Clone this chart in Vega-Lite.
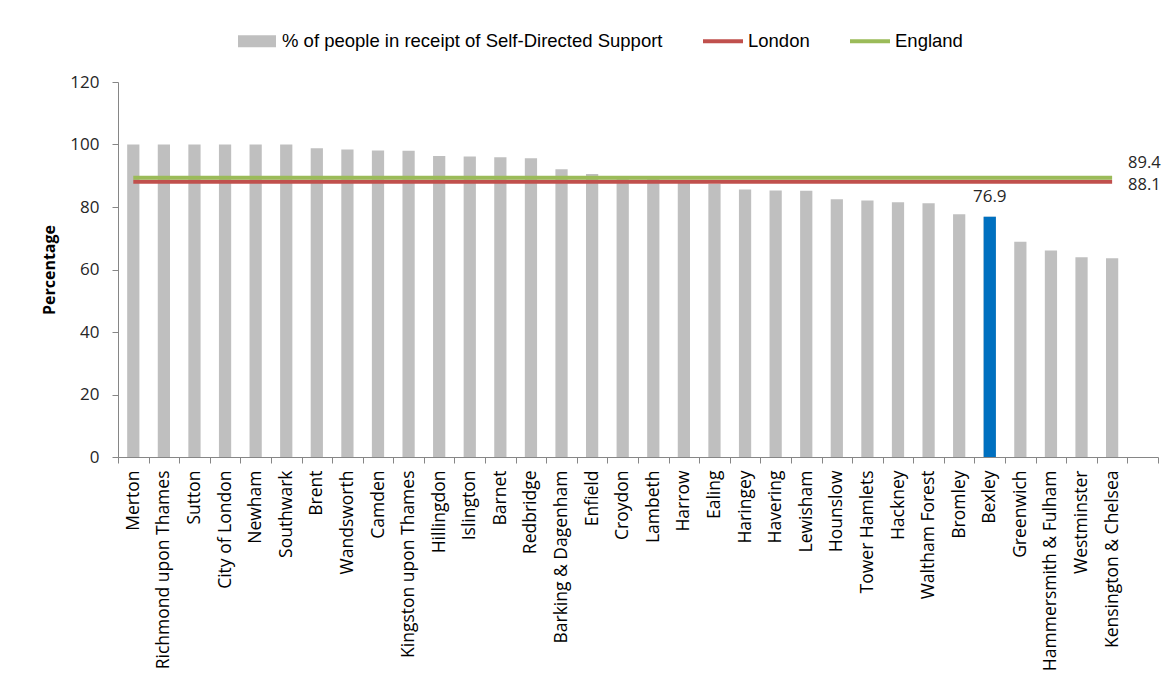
{
  "$schema": "https://vega.github.io/schema/vega-lite/v6.json",
  "autosize": {"type": "none"},
  "width": 1040,
  "height": 375,
  "padding": {"left": 118, "top": 82, "right": 13, "bottom": 227},
  "background": "white",
  "config": {
    "view": {"stroke": null},
    "font": "Open Sans",
    "axis": {"grid": false, "domainColor": "#868686", "tickColor": "#868686", "labelColor": "#262626"}
  },
  "datasets": {
    "boroughs": [
      {"borough": "Merton", "pct": 100},
      {"borough": "Richmond upon Thames", "pct": 100},
      {"borough": "Sutton", "pct": 100},
      {"borough": "City of London", "pct": 100},
      {"borough": "Newham", "pct": 100},
      {"borough": "Southwark", "pct": 100},
      {"borough": "Brent", "pct": 98.8},
      {"borough": "Wandsworth", "pct": 98.4},
      {"borough": "Camden", "pct": 98.1},
      {"borough": "Kingston upon Thames", "pct": 98.0},
      {"borough": "Hillingdon", "pct": 96.3},
      {"borough": "Islington", "pct": 96.2},
      {"borough": "Barnet", "pct": 95.9},
      {"borough": "Redbridge", "pct": 95.6},
      {"borough": "Barking & Dagenham", "pct": 92.1},
      {"borough": "Enfield", "pct": 90.6},
      {"borough": "Croydon", "pct": 89.6},
      {"borough": "Lambeth", "pct": 89.0},
      {"borough": "Harrow", "pct": 88.6},
      {"borough": "Ealing", "pct": 87.4},
      {"borough": "Haringey", "pct": 85.6},
      {"borough": "Havering", "pct": 85.3},
      {"borough": "Lewisham", "pct": 85.2},
      {"borough": "Hounslow", "pct": 82.5},
      {"borough": "Tower Hamlets", "pct": 82.1},
      {"borough": "Hackney", "pct": 81.5},
      {"borough": "Waltham Forest", "pct": 81.2},
      {"borough": "Bromley", "pct": 77.7},
      {"borough": "Bexley", "pct": 76.9},
      {"borough": "Greenwich", "pct": 68.9},
      {"borough": "Hammersmith & Fulham", "pct": 66.1},
      {"borough": "Westminster", "pct": 63.9},
      {"borough": "Kensington & Chelsea", "pct": 63.6}
    ],
    "lines": [
      {"series": "London", "borough": "Merton", "value": 88.1, "end": false},
      {"series": "London", "borough": "Kensington & Chelsea", "value": 88.1, "end": true},
      {"series": "England", "borough": "Merton", "value": 89.4, "end": false},
      {"series": "England", "borough": "Kensington & Chelsea", "value": 89.4, "end": true}
    ]
  },
  "encoding": {
    "x": {
      "field": "borough",
      "type": "nominal",
      "sort": null,
      "scale": {
        "domain": ["Merton", "Richmond upon Thames", "Sutton", "City of London", "Newham", "Southwark", "Brent", "Wandsworth", "Camden", "Kingston upon Thames", "Hillingdon", "Islington", "Barnet", "Redbridge", "Barking & Dagenham", "Enfield", "Croydon", "Lambeth", "Harrow", "Ealing", "Haringey", "Havering", "Lewisham", "Hounslow", "Tower Hamlets", "Hackney", "Waltham Forest", "Bromley", "Bexley", "Greenwich", "Hammersmith & Fulham", "Westminster", "Kensington & Chelsea", " "],
        "paddingInner": 0,
        "paddingOuter": 0
      },
      "axis": {
        "title": null,
        "labelAngle": 270,
        "labelFontSize": 17.5,
        "labelFont": "Open Sans",
        "labelColor": "#000000",
        "tickBand": "extent",
        "tickSize": 6,
        "labelPadding": 7,
        "labelLimit": 400
      }
    }
  },
  "layer": [
    {
      "data": {"name": "boroughs"},
      "mark": {"type": "bar", "width": {"band": 0.4}},
      "encoding": {
        "y": {
          "field": "pct",
          "type": "quantitative",
          "scale": {"domain": [0, 120]},
          "axis": {
            "title": "Percentage",
            "titleFont": "Open Sans",
            "titleFontWeight": "bold",
            "titleFontSize": 16,
            "titleColor": "#000000",
            "titlePadding": 12,
            "values": [0, 20, 40, 60, 80, 100, 120],
            "labelFontSize": 17,
            "tickSize": 6,
            "labelPadding": 13
          }
        },
        "color": {
          "datum": "% of people in receipt of Self-Directed Support",
          "type": "nominal",
          "title": null,
          "scale": {
            "domain": ["% of people in receipt of Self-Directed Support", "London", "England"],
            "range": ["#BFBFBF", "#C0504D", "#9BBB59"]
          },
          "legend": {
            "title": null,
            "orient": "none",
            "direction": "horizontal",
            "legendX": 119,
            "legendY": -61,
            "padding": 0,
            "labelFont": "Liberation Sans",
            "labelFontSize": 18.5,
            "labelColor": "#000000",
            "labelOffset": 5,
            "columnPadding": 40,
            "symbolSize": 1600,
            "labelLimit": 500,
            "encode": {
              "symbols": {
                "update": {
                  "shape": {"signal": "datum.value === 'London' || datum.value === 'England' ? 'M-1,-0.1H1V0.1H-1Z' : 'M-0.95,-0.3H0.95V0.3H-0.95Z'"},
                  "fill": {"scale": "color", "field": "value"},
                  "strokeWidth": {"value": 0},
                  "opacity": {"value": 1}
                }
              }
            }
          }
        }
      }
    },
    {
      "data": {"name": "boroughs"},
      "transform": [{"filter": "datum.borough === 'Bexley'"}],
      "mark": {"type": "bar", "width": {"band": 0.4}, "color": "#0070C0"},
      "encoding": {
        "y": {"field": "pct", "type": "quantitative"}
      }
    },
    {
      "data": {"name": "boroughs"},
      "transform": [{"filter": "datum.borough === 'Bexley'"}],
      "mark": {"type": "text", "baseline": "middle", "align": "center", "dy": -20, "fontSize": 17, "font": "Open Sans", "color": "#262626"},
      "encoding": {
        "y": {"field": "pct", "type": "quantitative"},
        "text": {"field": "pct", "type": "quantitative", "format": ".1f"}
      }
    },
    {
      "data": {"name": "lines"},
      "mark": {"type": "line", "strokeWidth": 4},
      "encoding": {
        "y": {"field": "value", "type": "quantitative"},
        "color": {"field": "series", "type": "nominal", "title": null},
        "detail": {"field": "series"}
      }
    },
    {
      "data": {"name": "lines"},
      "transform": [{"filter": "datum.end && datum.series === 'England'"}],
      "mark": {"type": "text", "align": "left", "baseline": "middle", "dx": 16, "dy": -15, "fontSize": 16.5, "font": "Open Sans", "color": "#262626"},
      "encoding": {
        "y": {"field": "value", "type": "quantitative"},
        "text": {"field": "value", "type": "quantitative", "format": ".1f"}
      }
    },
    {
      "data": {"name": "lines"},
      "transform": [{"filter": "datum.end && datum.series === 'London'"}],
      "mark": {"type": "text", "align": "left", "baseline": "middle", "dx": 16, "dy": 3, "fontSize": 16.5, "font": "Open Sans", "color": "#262626"},
      "encoding": {
        "y": {"field": "value", "type": "quantitative"},
        "text": {"field": "value", "type": "quantitative", "format": ".1f"}
      }
    }
  ]
}
